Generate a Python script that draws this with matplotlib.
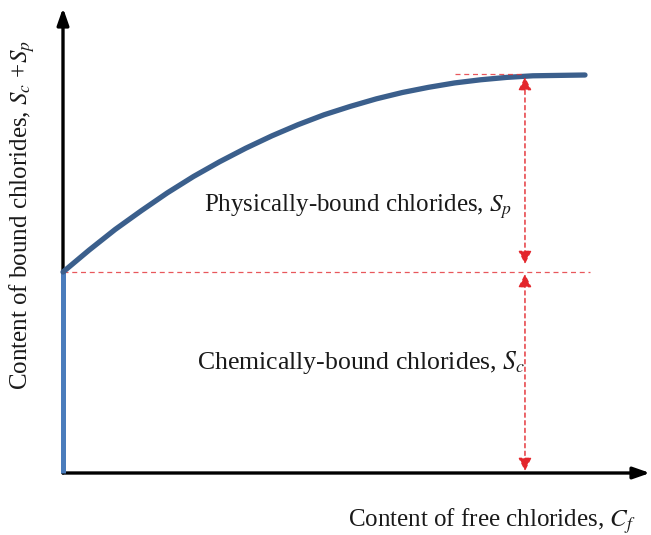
import matplotlib
matplotlib.use("Agg")
import matplotlib.pyplot as plt

plt.rcParams['font.family'] = ['Liberation Serif', 'DejaVu Serif']
plt.rcParams['mathtext.fontset'] = 'stix'

# Data (arbitrary units read from schematic)
free_cl = [0.0, 0.5, 1.0, 1.5, 2.0, 2.5, 3.0, 3.5, 4.0, 4.5, 5.0, 5.5, 6.0, 6.5, 7.0, 7.5, 8.0, 8.5, 9.0, 9.5, 10.0]
bound_cl = [5.05, 5.60, 6.12, 6.59, 7.04, 7.45, 7.82, 8.16, 8.47, 8.75, 9.00, 9.21, 9.40, 9.56, 9.69, 9.80, 9.88, 9.94, 9.98, 9.99, 10.0]
chem_level = 5.05
total_level = 10.0

xlabel = r"Content of free chlorides, $C_f$"
ylabel = r"Content of bound chlorides, $S_c$ +$S_p$"
phys_label = r"Physically-bound chlorides, $S_p$"
chem_label = r"Chemically-bound chlorides, $S_c$"

W, H = 651, 535
fig = plt.figure(figsize=(W/100, H/100), dpi=100)
x0, y0 = 63, 473
xr, yt = 650, 8
ax = fig.add_axes([x0/W, (H-y0)/H, (xr-x0)/W, (y0-yt)/H])
px_per_x = (585-63)/10.0
px_per_y = (473-75)/10.0
xmax = (xr-x0)/px_per_x
ymax = (y0-yt)/px_per_y
ax.set_xlim(0, xmax)
ax.set_ylim(0, ymax)
ax.axis('off')

# axes arrows
for xy in [(0, ymax), (xmax, 0)]:
    ax.annotate('', xy=xy, xytext=(0, 0), xycoords='data',
                arrowprops=dict(arrowstyle='-|>,head_length=1.0,head_width=0.35', lw=2.4, color='black',
                                shrinkA=0, shrinkB=0), annotation_clip=False)

red = '#e53a3f'
# dashed reference lines
ax.plot([0, 10.1], [chem_level, chem_level], ls=(0, (4, 3)), lw=0.9, color=red, alpha=0.85, zorder=2)
ax.plot([7.5, 8.85], [total_level + 0.03, total_level + 0.03], ls=(0, (4, 3)), lw=0.9, color=red, alpha=0.85, zorder=6)

# blue vertical line and curve
ax.plot([0, 0], [0, chem_level], color='#4a7cbc', lw=3.6, solid_capstyle='butt', zorder=4, clip_on=False)
ax.plot(free_cl, bound_cl, color='#3b5f8c', lw=3.8, solid_capstyle='round', zorder=5, clip_on=False)

# dimension arrows
xa = 8.85
aprops = dict(arrowstyle='<|-|>,head_length=0.8,head_width=0.4', lw=1.0,
              ls=(0, (3, 2.5)), color='#e3262c', shrinkA=0, shrinkB=0)
ax.annotate('', xy=(xa, total_level - 0.05), xytext=(xa, chem_level + 0.2), arrowprops=aprops, zorder=7)
ax.annotate('', xy=(xa, 0.05), xytext=(xa, chem_level - 0.05), arrowprops=aprops, zorder=7)

# texts
tc = '#1a1a1a'
ax.text(8.6, (473-207)/px_per_y, phys_label, ha='right', va='center', fontsize=18, color=tc)
ax.text(8.85, (473-363)/px_per_y, chem_label, ha='right', va='center', fontsize=18.5, color=tc)
fig.text(636/W, 1-521/H, xlabel, ha='right', va='center', fontsize=18, color=tc)
fig.text(22/W, 1-215/H, ylabel, ha='center', va='center', rotation=90, fontsize=18, color=tc)

fig.savefig('out.png', dpi=100)
